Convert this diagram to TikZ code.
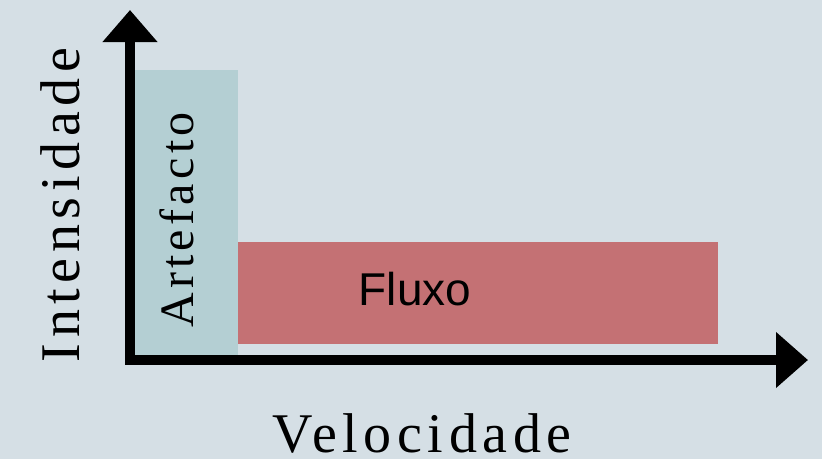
\documentclass[tikz,border=0pt]{standalone}
\usepackage{fontspec}
\setmainfont{Liberation Serif}
\newfontfamily\arialfont{Liberation Sans}
\usetikzlibrary{arrows.meta}

\definecolor{bgcol}{HTML}{D5DFE5}
\definecolor{artcol}{HTML}{B4CFD3}
\definecolor{fluxcol}{HTML}{C47174}

\tikzset{
  axis/.style={line width=10pt, line join=miter, black,
    {Triangle[length=32pt,width=53pt]}-{Triangle[length=32pt,width=54pt]}},
  axislabel/.style={inner sep=0pt, font=\fontsize{56}{58}\selectfont\addfontfeature{LetterSpace=10}},
  barlabel/.style={inner sep=0pt},
}

\begin{document}
\begin{tikzpicture}[x=1pt,y=-1pt]
  % canvas
  \fill[bgcol] (0,0) rectangle (822,459);
  \useasboundingbox (0,0) rectangle (822,459);

  % bars
  \fill[artcol] (135,70) rectangle (238,355);
  \fill[fluxcol] (238,242) rectangle (718,344);

  % axes
  \coordinate (origin) at (130,360);
  \coordinate (ytip) at (130,10);
  \coordinate (xtip) at (808,360);
  \draw[axis] (ytip) -- (origin) -- (xtip);

  % labels
  \node[axislabel, anchor=base, rotate=90] (ylab) at (79,205) {Intensidade};
  \node[axislabel, anchor=base] (xlab) at (422,452) {Velocidade};
  \node[barlabel, anchor=base, rotate=90,
        font=\fontsize{48}{50}\selectfont\addfontfeature{LetterSpace=9}] (artlab) at (193,220) {Artefacto};
  \node[barlabel, anchor=base, font=\arialfont\fontsize{46}{48}\selectfont] (fluxlab) at (415,305) {Fluxo};
\end{tikzpicture}
\end{document}
